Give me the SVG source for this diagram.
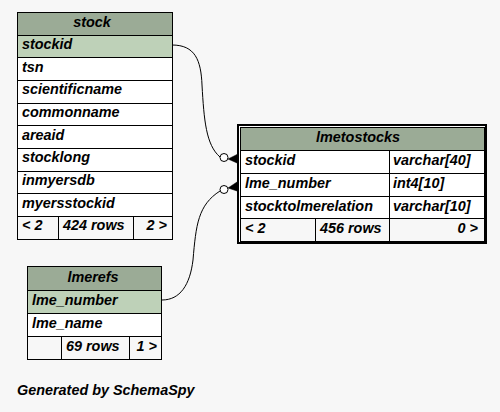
<svg xmlns="http://www.w3.org/2000/svg" width="500" height="412" viewBox="0 0 500 412">
<style>
text{font-family:"Liberation Sans",Arial,Helvetica,sans-serif;font-weight:bold;font-style:italic;font-size:14.4px;fill:#000}
.hd{fill:#9bab96}
.pk{fill:#bed1b8}
.bd{fill:#ffffff}
.ft{fill:#f7f7f7}
.ln{stroke:#000;stroke-width:1;fill:none}
.c{text-anchor:middle}
.r{text-anchor:end}
.edge{stroke:#000;stroke-width:1;fill:none}
.dot{stroke:#000;stroke-width:1;fill:#ffffff}
.crow{fill:#000;stroke:#000;stroke-width:0.5}
</style>
<rect width="500" height="412" fill="#f7f7f7"/>

<g id="connectors">
<path class="edge" d="M172,45 C195,45 201,60 202,85 C204,120 206,145 220,157"/>
<circle class="dot" cx="224" cy="157.5" r="4"/>
<polygon class="crow" points="228,159 237,154.5 237,163"/>
<path class="edge" d="M162,300 C180,300 190,285 193,260 C196,225 198,205 220,191"/>
<circle class="dot" cx="224" cy="189.5" r="4"/>
<polygon class="crow" points="228,188 237,182 237,191"/>
</g>

<g id="stock">
<rect class="hd" x="17.5" y="12.5" width="155" height="23"/>
<rect class="pk" x="17.5" y="35.5" width="155" height="22"/>
<rect class="bd" x="17.5" y="57.5" width="155" height="159"/>
<rect class="ft" x="17.5" y="216.5" width="155" height="23"/>
<path class="ln" d="M17.5,35.5H172.5M17.5,57.5H172.5M17.5,80.5H172.5M17.5,103.5H172.5M17.5,125.5H172.5M17.5,148.5H172.5M17.5,171.5H172.5M17.5,193.5H172.5M17.5,216.5H172.5M58.5,216.5V239.5M133.5,216.5V239.5"/>
<rect class="ln" x="17.5" y="12.5" width="155" height="227"/>
<text class="c" x="92" y="27">stock</text>
<text x="22" y="49">stockid</text>
<text x="22" y="71.5">tsn</text>
<text x="22" y="94">scientificname</text>
<text x="22" y="117">commonname</text>
<text x="22" y="139.5">areaid</text>
<text x="22" y="162">stocklong</text>
<text x="22" y="185">inmyersdb</text>
<text x="22" y="207.5">myersstockid</text>
<text x="22" y="230">&lt; 2</text>
<text x="63" y="230">424 rows</text>
<text class="r" x="167" y="230">2 &gt;</text>
</g>

<g id="lmetostocks">
<rect x="238" y="125" width="248" height="118" fill="#ffffff" stroke="#000" stroke-width="2"/>
<rect class="hd" x="240.5" y="127.5" width="244" height="23"/>
<rect class="bd" x="240.5" y="150.5" width="244" height="68"/>
<rect class="ft" x="240.5" y="218.5" width="244" height="23"/>
<path class="ln" d="M240.5,150.5H484.5M240.5,173.5H484.5M240.5,196.5H484.5M240.5,218.5H484.5M389.5,150.5V241.5M315.5,218.5V241.5"/>
<rect class="ln" x="240.5" y="127.5" width="244" height="114"/>
<text class="c" x="358" y="142">lmetostocks</text>
<text x="245" y="165">stockid</text>
<text x="393" y="165">varchar[40]</text>
<text x="245" y="188">lme_number</text>
<text x="393" y="188">int4[10]</text>
<text x="245" y="210.5">stocktolmerelation</text>
<text x="393" y="210.5">varchar[10]</text>
<text x="245" y="233">&lt; 2</text>
<text x="320" y="233">456 rows</text>
<text class="r" x="478" y="233">0 &gt;</text>
</g>

<g id="lmerefs">
<rect class="hd" x="27.5" y="266.5" width="134" height="24"/>
<rect class="pk" x="27.5" y="290.5" width="134" height="23"/>
<rect class="bd" x="27.5" y="313.5" width="134" height="23"/>
<rect class="ft" x="27.5" y="336.5" width="134" height="23"/>
<path class="ln" d="M27.5,290.5H161.5M27.5,313.5H161.5M27.5,336.5H161.5M61.5,336.5V359.5M129.5,336.5V359.5"/>
<rect class="ln" x="27.5" y="266.5" width="134" height="93"/>
<text class="c" x="93" y="282">lmerefs</text>
<text x="32" y="305">lme_number</text>
<text x="32" y="328">lme_name</text>
<text x="66" y="351">69 rows</text>
<text class="r" x="157" y="351">1 &gt;</text>
</g>

<text x="17" y="395">Generated by SchemaSpy</text>
</svg>
